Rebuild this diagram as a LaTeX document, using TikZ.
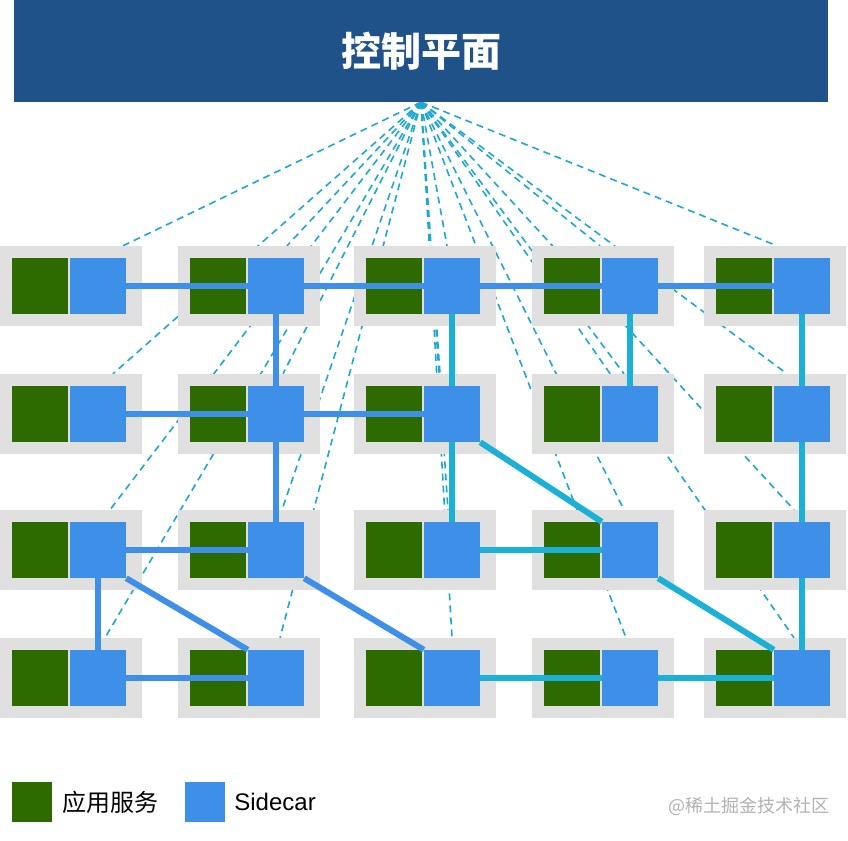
\documentclass[tikz,border=0pt]{standalone}
\usepackage{fontspec}
\setmainfont{Liberation Sans}
\newfontfamily\cjk{Noto Sans CJK SC}
\usetikzlibrary{positioning}

\definecolor{planeblue}{HTML}{20528A}
\definecolor{appgreen}{HTML}{2D6A00}
\definecolor{carblue}{HTML}{3D8FE8}
\definecolor{podgray}{HTML}{E0E0E0}
\definecolor{meshcyan}{HTML}{1BB0D6}
\definecolor{ctrlcyan}{HTML}{1CA8D4}

\pgfdeclarelayer{bg}
\pgfsetlayers{bg,main}

\begin{document}
\begin{tikzpicture}[x=1pt,y=-1pt,
    pod/.style={fill=podgray,minimum width=142pt,minimum height=80pt,inner sep=0pt},
    app/.style={fill=appgreen,minimum size=56pt,inner sep=0pt},
    car/.style={fill=carblue,minimum size=56pt,inner sep=0pt},
    ctrl/.style={ctrlcyan,line width=1.6pt,dash pattern=on 7pt off 5pt},
    mlink/.style={carblue,line width=6pt},
    clink/.style={meshcyan,line width=6pt}]

    \useasboundingbox (0,0) rectangle (848,840);

    % Control plane
    \node [fill=planeblue,minimum width=814pt,minimum height=102pt,text=white,
        font=\cjk\bfseries\fontsize{40}{44}\selectfont] (plane) at (421,51) {控制平面};
    \coordinate (cp) at (plane.south);

    % Pods: app + sidecar
    \foreach \r/\y in {1/286,2/414,3/550,4/678}
      \foreach \c/\x in {1/71,2/249,3/425,4/603,5/775} {
        \node [pod] (pod-\r-\c) at (\x,\y) {};
        \node [app] (app-\r-\c) at ([xshift=-31pt]pod-\r-\c.center) {};
        \node [car] (sc-\r-\c) at ([xshift=27pt]pod-\r-\c.center) {};
      }

    % Control connections (behind the pods)
    \begin{pgfonlayer}{bg}
      \foreach \r/\c/\dx in {1/1/52,1/2/38,1/3/22,1/4/-3,1/5/2,
                             2/1/42,2/2/34,2/3/15,2/4/21,2/5/12,
                             3/1/39,3/2/33,3/3/23,3/4/21,3/5/19,
                             4/1/34,4/2/31,4/3/27,4/4/23,4/5/19}
        \draw [ctrl] (cp) -- ([xshift=\dx pt]pod-\r-\c.north);
    \end{pgfonlayer}

    % Data plane (blue)
    \draw [mlink] (sc-1-1) -- (sc-1-2);
    \draw [mlink] (sc-1-2) -- (sc-1-3);
    \draw [mlink] (sc-1-3) -- (sc-1-4);
    \draw [mlink] (sc-1-4) -- (sc-1-5);
    \draw [mlink] (sc-1-2) -- (sc-2-2);
    \draw [mlink] (sc-2-1) -- (sc-2-2);
    \draw [mlink] (sc-2-2) -- (sc-2-3);
    \draw [mlink] (sc-2-2) -- (sc-3-2);
    \draw [mlink] (sc-3-1) -- (sc-3-2);
    \draw [mlink] (sc-3-1) -- (sc-4-1);
    \draw [mlink] (sc-3-1.south east) -- (sc-4-2.north west);
    \draw [mlink] (sc-3-2.south east) -- (sc-4-3.north west);
    \draw [mlink] (sc-4-1) -- (sc-4-2);

    % Data plane (cyan)
    \draw [clink] (sc-1-3) -- (sc-2-3);
    \draw [clink] (sc-1-4) -- (sc-2-4);
    \draw [clink] (sc-1-5) -- (sc-2-5);
    \draw [clink] (sc-2-3) -- (sc-3-3);
    \draw [clink] (sc-2-3.south east) -- (sc-3-4.north west);
    \draw [clink] (sc-3-3) -- (sc-3-4);
    \draw [clink] (sc-2-5) -- (sc-3-5);
    \draw [clink] (sc-3-5) -- (sc-4-5);
    \draw [clink] (sc-3-4.south east) -- (sc-4-5.north west);
    \draw [clink] (sc-4-3) -- (sc-4-4);
    \draw [clink] (sc-4-4) -- (sc-4-5);

    % Legend
    \node [app,minimum size=40pt] (leg-app) at (32,802) {};
    \node [right=10pt of leg-app,inner sep=0pt,font=\cjk\fontsize{24}{26}\selectfont] (leg-app-txt) {应用服务};
    \node [car,minimum size=40pt] (leg-car) at (205,802) {};
    \node [right=9pt of leg-car,inner sep=0pt,font=\fontsize{24}{26}\selectfont] (leg-car-txt) {Sidecar};
    \node [anchor=east,inner sep=0pt,text=gray!60,font=\cjk\fontsize{18}{20}\selectfont] (mark) at (830,806) {@稀土掘金技术社区};

\end{tikzpicture}
\end{document}
